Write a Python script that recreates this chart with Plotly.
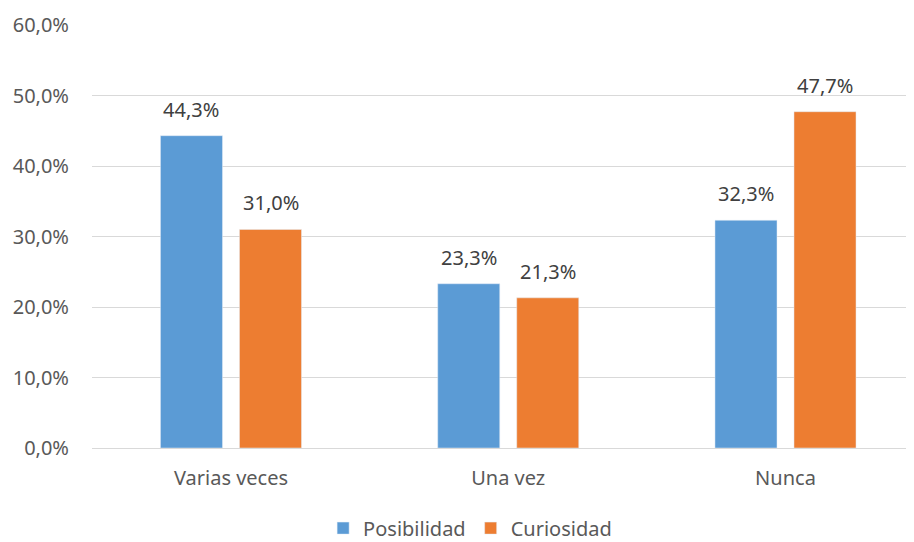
import plotly.graph_objects as go

categories = ["Varias veces", "Una vez", "Nunca"]
posibilidad = [44.3, 23.3, 32.3]
curiosidad = [31.0, 21.3, 47.7]
tick_vals = [0, 10, 20, 30, 40, 50, 60]
tick_text = ["0,0%", "10,0%", "20,0%", "30,0%", "40,0%", "50,0%", "60,0%"]

def lbl(v):
    return f"{v:.1f}%".replace(".", ",")

font = "Noto Sans"
FS = 20
BARGAP = 0.43
GROUPGAP = 0.215
offset = (1 - BARGAP) / 4  # centre offset of each bar in the group (category units)

fig = go.Figure()
fig.add_bar(name="Posibilidad", x=categories, y=posibilidad, marker_color="#5B9BD5")
fig.add_bar(name="Curiosidad", x=categories, y=curiosidad, marker_color="#ED7D31")

annotations = []
for i, cat in enumerate(categories):
    for val, sh in ((posibilidad[i], -offset), (curiosidad[i], offset)):
        annotations.append(dict(x=i + sh, y=val, xref="x", yref="y", text=lbl(val),
                                showarrow=False, yanchor="bottom", yshift=11,
                                font=dict(size=FS, color="#404040", family=font)))

# the page adds an 8px body margin, so the figure is 8px smaller and shifted
fig.update_layout(
    width=906, height=534,
    margin=dict(l=84, r=0, t=17, b=94),
    plot_bgcolor="white", paper_bgcolor="white",
    barmode="group", bargap=BARGAP, bargroupgap=GROUPGAP,
    font=dict(family=font, size=FS, color="#595959"),
    annotations=annotations,
    legend=dict(orientation="h", x=0.46, xanchor="center", yref="container",
                y=0.026, yanchor="middle", font=dict(size=FS, color="#595959")),
    xaxis=dict(showline=True, linecolor="#D9D9D9", linewidth=1, ticks="",
               range=[-0.5013, 2.4635], tickfont=dict(size=FS), ticklabelstandoff=12),
    yaxis=dict(range=[0, 60], tickvals=tick_vals, ticktext=tick_text,
               showgrid=True, gridcolor="#D9D9D9", zeroline=False, ticks="",
               tickfont=dict(size=FS), ticklabelstandoff=22),
)
fig.write_html("out.html")
